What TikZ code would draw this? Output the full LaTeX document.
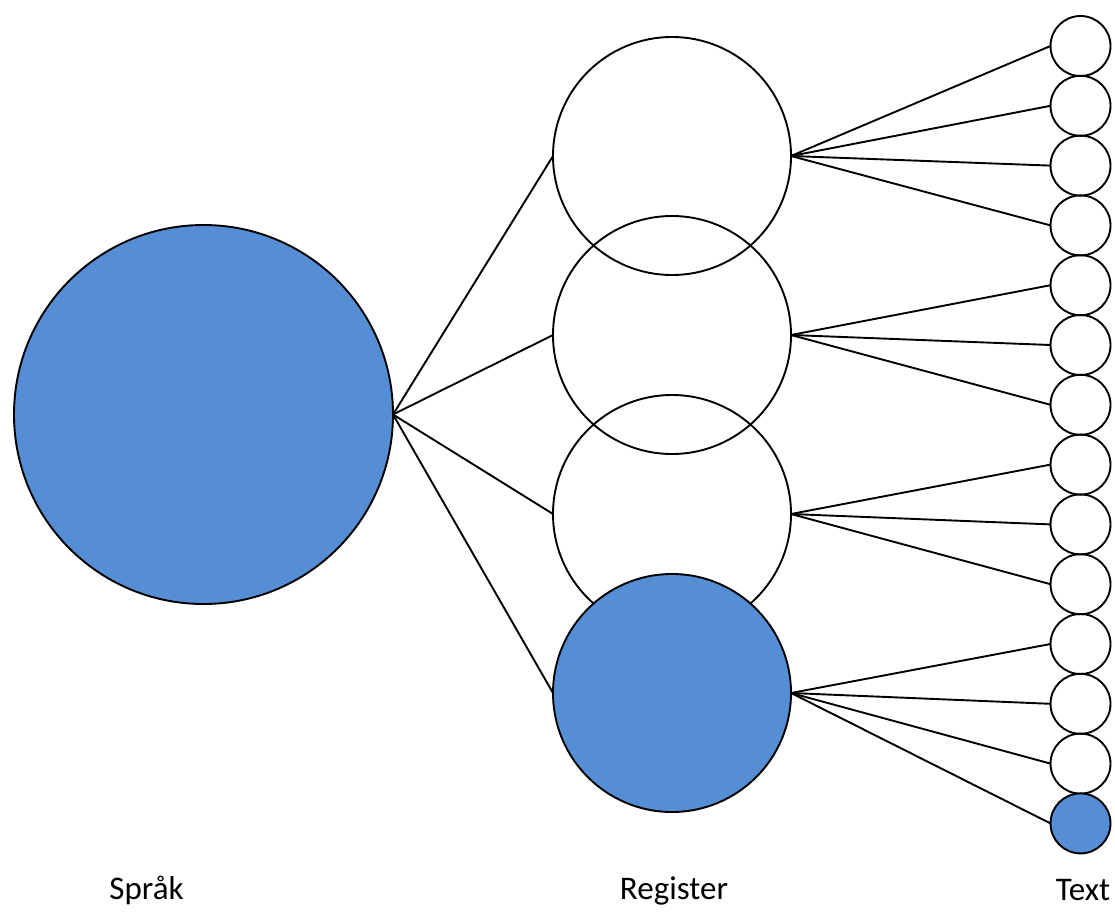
\documentclass[tikz,border=0pt]{standalone}
\usepackage{fontspec}
\setmainfont{Carlito}
\definecolor{cblue}{RGB}{85,142,213}
\begin{document}
\begin{tikzpicture}[x=1pt,y=-1pt,
  circ/.style={circle,draw=black,line width=1.9pt,inner sep=0pt,outer sep=0pt},
  big/.style={circ,minimum size=379pt},
  reg/.style={circ,minimum size=238pt},
  txt/.style={circ,minimum size=60pt},
  conn/.style={line width=1.9pt},
  lbl/.style={font=\fontsize{33}{40}\selectfont,anchor=base}]
\useasboundingbox (0,0) rectangle (1115,918);
\node[big,fill=cblue] (S) at (203.5,414.5) {};
\node[reg] (R1) at (672,156) {};
\node[reg] (R2) at (672,335) {};
\node[reg] (R3) at (672,514) {};
\node[reg,fill=cblue] (R4) at (672,693) {};
\foreach \i in {1,...,13}{
  \node[txt] (T\i) at (1080.5,{46+(\i-1)*59.8}) {};
}
\node[txt,fill=cblue] (T14) at (1080.5,{46+13*59.8}) {};
\foreach \r in {1,2,3,4}{\draw[conn] (S.east) -- (R\r.west);}
\foreach \t in {1,2,3,4}{\draw[conn] (R1.east) -- (T\t.west);}
\foreach \t in {5,6,7}{\draw[conn] (R2.east) -- (T\t.west);}
\foreach \t in {8,9,10}{\draw[conn] (R3.east) -- (T\t.west);}
\foreach \t in {11,12,13,14}{\draw[conn] (R4.east) -- (T\t.west);}
\node[lbl] (LS) at (146.5,899) {Språk};
\node[lbl] (LR) at (674,899) {Register};
\node[lbl] (LT) at (1083,900) {Text};
\end{tikzpicture}
\end{document}
